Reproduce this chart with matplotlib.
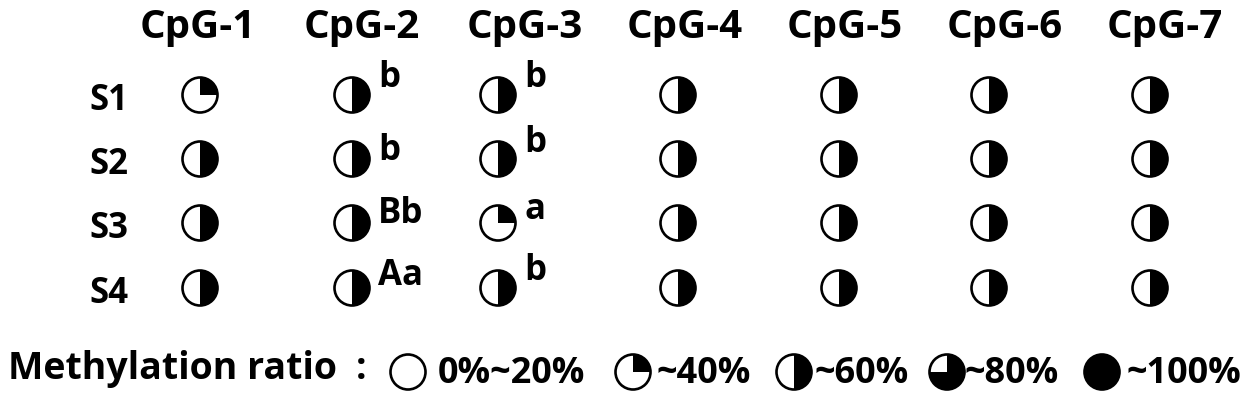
import matplotlib
matplotlib.use("Agg")
import matplotlib.pyplot as plt
from matplotlib.patches import Circle, Wedge

# sitios CpG y muestras
sites = ["CpG-1", "CpG-2", "CpG-3", "CpG-4", "CpG-5", "CpG-6", "CpG-7"]
samples = ["S1", "S2", "S3", "S4"]

# clase de metilacion: 0 = 0%~20%, 1 = ~40%, 2 = ~60%, 3 = ~80%, 4 = ~100%
level_s1 = [1, 2, 2, 2, 2, 2, 2]
level_s2 = [2, 2, 2, 2, 2, 2, 2]
level_s3 = [2, 2, 1, 2, 2, 2, 2]
level_s4 = [2, 2, 2, 2, 2, 2, 2]
levels = [level_s1, level_s2, level_s3, level_s4]

# letras de significancia (por muestra)
letters_cpg2 = ["b", "b", "Bb", "Aa"]
letters_cpg3 = ["b", "b", "a", "b"]

legend_title = "Methylation ratio"
legend_labels = ["0%~20%", "~40%", "~60%", "~80%", "~100%"]

# layout en pixeles
col_x = [200, 352, 498, 678, 839, 989, 1150]
head_x = [198, 362, 525, 685, 845, 1005, 1165]
row_y = [95, 159, 223, 288]
sup_y = {1: [87, 160, 223, 285], 2: [87, 152, 219, 280]}
leg_x = [408, 633, 794, 947, 1102]
leg_text_x = [438, 657, 815, 965, 1126]

FONT = ["Open Sans", "Noto Sans CJK SC", "DejaVu Sans"]
R = 17.5


def symbol(ax, x, y, level):
    ax.add_patch(Circle((x, y), R, fc="white", ec="none"))
    spans = {1: (-90, 0), 2: (-90, 90), 3: (-90, 180)}
    if level == 4:
        ax.add_patch(Circle((x, y), R, fc="black", ec="none"))
    elif level in spans:
        ax.add_patch(Wedge((x, y), R, spans[level][0], spans[level][1], fc="black", ec="none"))
    ax.add_patch(Circle((x, y), R, fc="none", ec="black", lw=1.9))


fig = plt.figure(figsize=(12.5, 3.98), dpi=100)
ax = fig.add_axes([0, 0, 1, 1])
ax.set_xlim(0, 1250)
ax.set_ylim(398, 0)
ax.axis("off")

for j, name in enumerate(sites):
    ax.text(head_x[j], 38, name, ha="center", va="baseline", fontsize=29,
            fontweight="bold", family=FONT)

for i, s in enumerate(samples):
    ax.text(109, row_y[i] + 15, s, ha="center", va="baseline", fontsize=25,
            fontweight="bold", family=FONT)
    for j in range(len(sites)):
        symbol(ax, col_x[j], row_y[i], levels[i][j])

for j, lets in [(1, letters_cpg2), (2, letters_cpg3)]:
    for i, t in enumerate(lets):
        ax.text(col_x[j] + 26, sup_y[j][i], t, ha="left", va="baseline", fontsize=25,
                fontweight="bold", family=FONT)

ax.text(8, 379, legend_title, ha="left", va="baseline", fontsize=27,
        fontweight="bold", family=FONT)
ax.text(361, 379, ":", ha="center", va="baseline", fontsize=27,
        fontweight="bold", family=FONT)
for k, lab in enumerate(legend_labels):
    symbol(ax, leg_x[k], 372, k)
    ax.text(leg_text_x[k], 383, lab, ha="left", va="baseline", fontsize=26,
            fontweight="bold", family=FONT)

fig.savefig("out.png", dpi=100)
